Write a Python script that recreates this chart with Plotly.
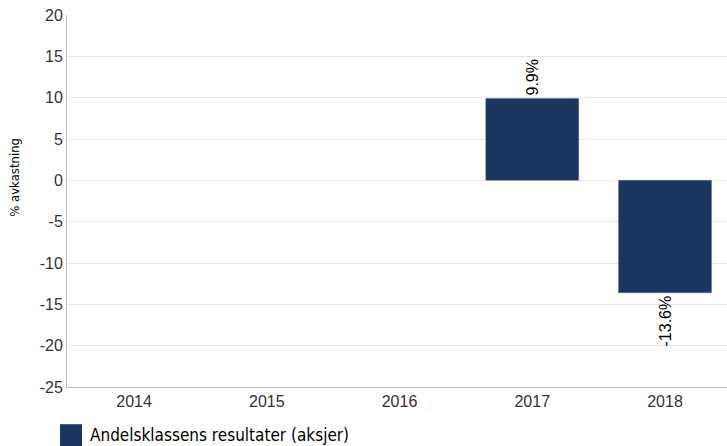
import plotly.graph_objects as go

years = ["2014", "2015", "2016", "2017", "2018"]
returns = [None, None, None, 9.9, -13.6]
labels = ["", "", "", "9.9%", "-13.6%"]
y_ticks = [20, 15, 10, 5, 0, -5, -10, -15, -20, -25]
y_tick_text = ["20", "15", "10", "5", "0", "-5", "-10", "-15", "-20", "-25"]
y_title = "% avkastning"
series_name = "Andelsklassens resultater (aksjer)"
bar_color = "#1c355e"
narrow = "Liberation Sans Narrow, DejaVu Sans Condensed, Roboto Condensed, Roboto"
arial = "Liberation Sans, Arial"

fig = go.Figure()
fig.add_trace(go.Bar(
    x=years, y=returns, name=series_name,
    marker=dict(color=bar_color, line=dict(color="#5a6d8c", width=0.5)),
    text=labels, textposition="outside", textangle=-90,
    textfont=dict(family=arial, size=16, color="#000000"),
    cliponaxis=False, showlegend=False,
))

fig.add_shape(type="rect", xref="paper", yref="paper",
              x0=-0.0106, x1=0.0227, y0=-0.100, y1=-0.159,
              fillcolor=bar_color, line=dict(width=0))
fig.add_annotation(xref="paper", yref="paper", x=0.032, y=-0.130,
                   xanchor="left", yanchor="middle", showarrow=False,
                   text=series_name,
                   font=dict(family=narrow, size=17, color="#000000"))
fig.add_annotation(xref="paper", yref="paper", x=-0.0788, y=0.565,
                   xanchor="center", yanchor="middle", showarrow=False,
                   textangle=-90, text=y_title,
                   font=dict(family=narrow, size=13, color="#000000"))

fig.update_layout(
    width=727, height=446,
    margin=dict(l=67, r=0, t=15, b=59),
    plot_bgcolor="white", paper_bgcolor="white",
    bargap=0.3,
    xaxis=dict(
        range=[-0.505, 4.467],
        showline=True, linecolor="#c0c0c0", linewidth=1,
        tickfont=dict(family=arial, size=16, color="#333333"),
        ticks="", showgrid=False,
    ),
    yaxis=dict(
        range=[-25, 20], tickvals=y_ticks, ticktext=y_tick_text,
        showline=True, linecolor="#c0c0c0", linewidth=1,
        gridcolor="#e6e6e6", zeroline=True, zerolinecolor="#e6e6e6", zerolinewidth=1,
        tickfont=dict(family=arial, size=16, color="#333333"),
    ),
)

fig.write_html("out.html", config={"displayModeBar": False},
               post_script="document.body.style.margin='0';")
